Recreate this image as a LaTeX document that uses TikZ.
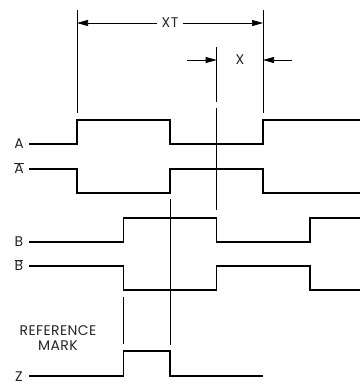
\documentclass[tikz,border=0pt]{standalone}
\usepackage{fontspec}
\setmainfont[LetterSpace=3]{Poppins}
\usetikzlibrary{arrows.meta}
\begin{document}
\begin{tikzpicture}[x=1pt,y=-1pt,
  sig/.style={line width=1.3pt,line join=miter},
  thin/.style={line width=0.6pt},
  dim/.style={line width=0.7pt},
  arr/.style={dim,-{Triangle[length=11pt,width=6pt]}},
  lbl/.style={inner sep=0pt,font=\fontsize{14}{15}\selectfont},
  every node/.style={text=black!85}]
\useasboundingbox (0,0) rectangle (360,392);
% extension lines
\draw[thin] (77,10) -- (77,113);
\draw[thin] (263,10) -- (263,113);
\draw[thin] (216.7,47) -- (216.7,102);
\draw[thin] (216.7,108) -- (216.7,210);
\draw[thin] (170,199) -- (170,345);
\draw[thin] (123.3,297) -- (123.3,344);
% XT dimension
\node[lbl] (xt) at (170,23) {XT};
\coordinate (xtl) at (77,23);
\coordinate (xtr) at (263,23);
\draw[arr] (xt.west) ++(-4,0) -- (xtl);
\draw[arr] (xt.east) ++(4,0) -- (xtr);
% X dimension
\node[lbl] (x) at (240,60) {X};
\coordinate (xl0) at (187,60);
\coordinate (xl1) at (216.7,60);
\coordinate (xr0) at (292,60);
\coordinate (xr1) at (263,60);
\draw[arr] (xl0) -- (xl1);
\draw[arr] (xr0) -- (xr1);
% signals
\node[lbl] (la) at (19,144) {A};
\draw[sig] (29,144) -- (77,144) -- (77,120) -- (170,120) -- (170,144) -- (263,144) -- (263,120) -- (360,120);
\node[lbl] (lab) at (19,168) {$\overline{\mbox{A}}$};
\draw[sig] (29,169) -- (77,169) -- (77,193) -- (170,193) -- (170,169) -- (263,169) -- (263,193) -- (360,193);
\node[lbl] (lb) at (19,242) {B};
\draw[sig] (29,242) -- (123.3,242) -- (123.3,218) -- (216.7,218) -- (216.7,242) -- (310,242) -- (310,218) -- (360,218);
\node[lbl] (lbb) at (19,265) {$\overline{\mbox{B}}$};
\draw[sig] (29,266) -- (123.3,266) -- (123.3,290) -- (216.7,290) -- (216.7,266) -- (310,266) -- (310,290) -- (360,290);
\node[lbl] (lz) at (19,377) {Z};
\draw[sig] (29,376) -- (123.3,376) -- (123.3,351) -- (170,351) -- (170,376) -- (263,376);
\node[lbl,align=center] (ref) at (58,338) {REFERENCE\\MARK};
\end{tikzpicture}
\end{document}
